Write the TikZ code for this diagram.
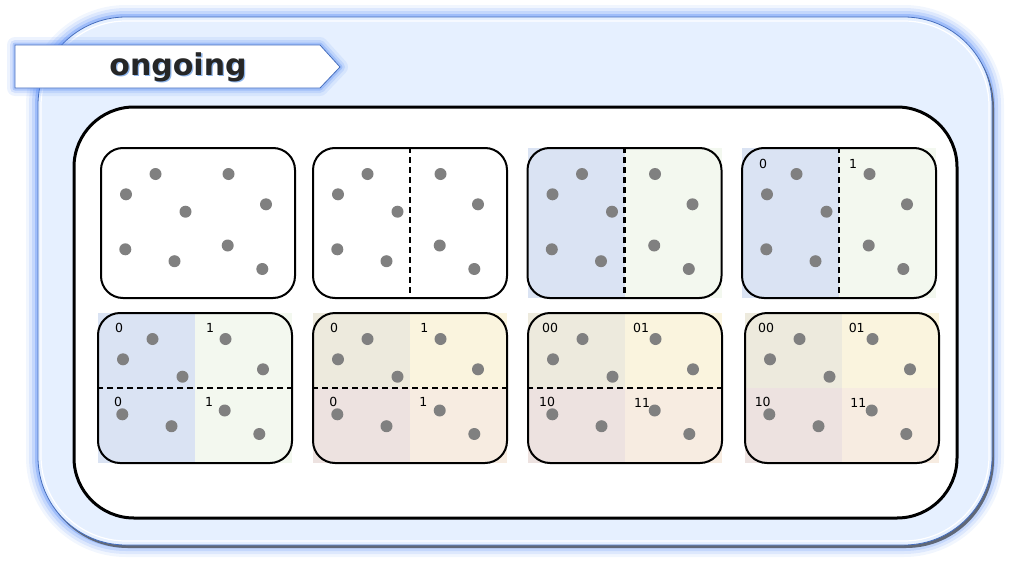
\documentclass[tikz,border=0pt]{standalone}
\usepackage{fontspec}
\setmainfont{DejaVu Sans}
\definecolor{cblue}{RGB}{218,227,243}
\definecolor{cgreen}{RGB}{243,248,239}
\definecolor{cTL}{RGB}{237,234,221}
\definecolor{cTR}{RGB}{250,244,222}
\definecolor{cBL}{RGB}{237,226,224}
\definecolor{cBR}{RGB}{247,236,225}
\definecolor{dotgray}{RGB}{128,128,128}
\definecolor{framefill}{RGB}{230,240,255}
\definecolor{frameedge}{RGB}{70,110,190}
\definecolor{frameshadow}{RGB}{96,104,120}
\definecolor{glowblue}{RGB}{80,135,245}
\definecolor{titletext}{RGB}{38,38,38}
\definecolor{titleshade}{RGB}{140,180,235}
\tikzset{
  dot/.style={circle,fill=dotgray,minimum size=12pt,inner sep=0pt},
  panel/.style={draw=black,line width=2pt,rounded corners=22pt,minimum width=194pt,minimum height=150pt,inner sep=0pt},
  divider/.style={draw=black,line width=2.2pt,dash pattern=on 6pt off 4pt},
  lab/.style={font=\fontsize{12.5}{13}\selectfont,inner sep=0pt,text=black},
  glowline/.style={draw=glowblue,line width=#1},
}
\newcommand\pdots[1]{%
  \foreach \dx/\dy [count=\k] in {54.5/26,127.5/26,25/46.3,165/56.3,84.5/63.7,24.3/101.3,126.7/97.5,73.5/113.2,161.3/121}{%
    \node[dot] (#1d\k) at (\dx,\dy) {};}%
}
\begin{document}
\begin{tikzpicture}[x=1pt,y=-1pt]
\useasboundingbox (0,0) rectangle (1012,570);
% ---- outer frame with glow and shadow
\foreach \w/\o in {24/0.08,18/0.12,12/0.18,6/0.32}{
  \draw[glowline=\w pt,opacity=\o,rounded corners=88pt] (38,17) rectangle (992,545);
}
\fill[frameshadow,rounded corners=88pt] (40,20) rectangle (994,548);
\node[draw=frameedge,line width=0.8pt,fill=framefill,rounded corners=88pt,minimum width=954pt,minimum height=528pt,inner sep=0pt] (frame) at (515,281) {};
\draw[white,line width=1.2pt,rounded corners=85pt] (41,21) rectangle (989,541);
% ---- inner white box
\node[draw=black,line width=3pt,fill=white,rounded corners=60pt,minimum width=883pt,minimum height=411pt,inner sep=0pt] (inner) at (515.5,312.5) {};
% ---- title banner
\foreach \w/\o in {16/0.10,10/0.16,5/0.28}{
  \draw[glowline=\w pt,opacity=\o,line join=round] (15,45) -- (320,45) -- (340,67) -- (320,88) -- (15,88) -- cycle;
}
\draw[fill=white,draw=frameedge,line width=0.8pt] (15,45) -- (320,45) -- (340,67) -- (320,88) -- (15,88) -- cycle;
\node[text=titleshade,font=\bfseries\fontsize{30}{36}\selectfont,inner sep=0pt] (titleshadow) at (179.3,68.6) {ongoing};
\node[text=titletext,font=\bfseries\fontsize{30}{36}\selectfont,inner sep=0pt] (title) at (178,67) {ongoing};
% ---- row 1
\begin{scope}[shift={(101,148)}]
  \node[panel] (p1) at (97,75) {};
  \pdots{p1}
\end{scope}
\begin{scope}[shift={(313,148)}]
  \node[panel] (p2) at (97,75) {};
  \draw[divider] (p2.north) -- (p2.south);
  \pdots{p2}
\end{scope}
\begin{scope}[shift={(527.5,148)}]
  \fill[cblue] (0,0) rectangle (97,150);
  \fill[cgreen] (97,0) rectangle (194,150);
  \node[panel] (p3) at (97,75) {};
  \draw[divider] (p3.north) -- (p3.south);
  \pdots{p3}
\end{scope}
\begin{scope}[shift={(742,148)}]
  \fill[cblue] (0,0) rectangle (97,150);
  \fill[cgreen] (97,0) rectangle (194,150);
  \node[panel] (p4) at (97,75) {};
  \draw[divider] (p4.north) -- (p4.south);
  \pdots{p4}
  \node[lab] (p4a) at (21,16) {0};
  \node[lab] (p4b) at (111,16) {1};
\end{scope}
% ---- row 2
\begin{scope}[shift={(98,313)}]
  \fill[cblue] (0,0) rectangle (97,150);
  \fill[cgreen] (97,0) rectangle (194,150);
  \node[panel] (p5) at (97,75) {};
  \draw[divider] (p5.west) -- (p5.east);
  \pdots{p5}
  \node[lab] (p5a) at (21,15) {0};
  \node[lab] (p5b) at (112,15) {1};
  \node[lab] (p5c) at (20,88.5) {0};
  \node[lab] (p5d) at (111,88.5) {1};
\end{scope}
\begin{scope}[shift={(313,313)}]
  \fill[cTL] (0,0) rectangle (97,75);
  \fill[cTR] (97,0) rectangle (194,75);
  \fill[cBL] (0,75) rectangle (97,150);
  \fill[cBR] (97,75) rectangle (194,150);
  \node[panel] (p6) at (97,75) {};
  \draw[divider] (p6.west) -- (p6.east);
  \pdots{p6}
  \node[lab] (p6a) at (21,15) {0};
  \node[lab] (p6b) at (111.3,15) {1};
  \node[lab] (p6c) at (20.3,88.5) {0};
  \node[lab] (p6d) at (110.3,88.5) {1};
\end{scope}
\begin{scope}[shift={(528,313)}]
  \fill[cTL] (0,0) rectangle (97,75);
  \fill[cTR] (97,0) rectangle (194,75);
  \fill[cBL] (0,75) rectangle (97,150);
  \fill[cBR] (97,75) rectangle (194,150);
  \node[panel] (p7) at (97,75) {};
  \draw[divider] (p7.west) -- (p7.east);
  \pdots{p7}
  \node[lab] (p7a) at (22,15) {00};
  \node[lab] (p7b) at (113,15) {01};
  \node[lab] (p7c) at (19,88.5) {10};
  \node[lab] (p7d) at (114,90) {11};
\end{scope}
\begin{scope}[shift={(745,313)}]
  \fill[cTL] (0,0) rectangle (97,75);
  \fill[cTR] (97,0) rectangle (194,75);
  \fill[cBL] (0,75) rectangle (97,150);
  \fill[cBR] (97,75) rectangle (194,150);
  \node[panel] (p8) at (97,75) {};
  \pdots{p8}
  \node[lab] (p8a) at (21,15) {00};
  \node[lab] (p8b) at (111.7,15) {01};
  \node[lab] (p8c) at (17.7,88.5) {10};
  \node[lab] (p8d) at (113.3,90) {11};
\end{scope}
\end{tikzpicture}
\end{document}
